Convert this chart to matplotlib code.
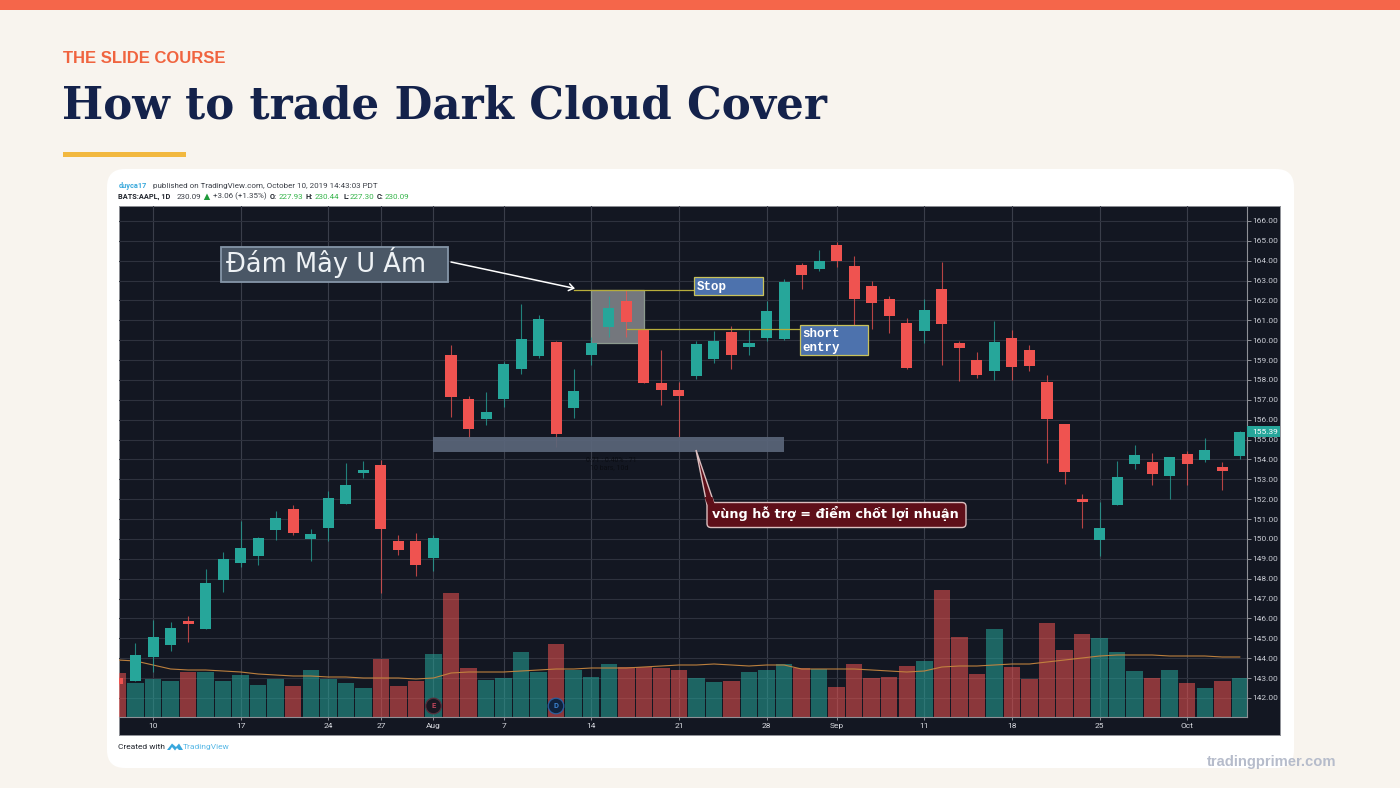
import numpy as np
import matplotlib
matplotlib.use("Agg")
import matplotlib.pyplot as plt
from matplotlib.patches import Rectangle, FancyBboxPatch, Polygon, Circle
from matplotlib.transforms import blended_transform_factory

# ---------- data ----------
opens  = [143.01,142.86,144.07,144.67,145.88,145.47,147.94,148.79,149.15,150.45,151.51,150.00,150.55,151.76,153.32,153.72,149.90,149.90,149.05,159.26,157.05,156.04,157.05,158.55,159.21,159.91,156.59,159.26,160.67,161.98,160.52,157.85,157.50,158.20,159.06,160.42,159.66,160.11,160.06,163.79,163.59,164.79,163.74,162.73,162.08,160.87,160.47,162.58,159.86,159.01,158.45,160.11,159.51,157.90,155.79,152.01,149.95,151.71,153.78,153.88,153.17,154.28,153.98,153.63,154.18]
highs  = [143.10,144.77,145.93,145.83,146.13,148.49,149.35,150.91,150.10,151.41,151.71,150.50,152.42,153.83,153.93,153.98,150.20,150.30,150.20,159.76,157.20,157.40,158.91,161.82,161.27,159.96,158.55,160.16,162.23,162.53,160.57,159.51,157.90,159.96,160.47,160.72,160.52,161.98,163.08,163.89,164.54,164.94,164.24,162.98,162.23,161.12,162.08,163.94,159.96,159.41,160.97,160.52,159.76,158.25,155.79,152.27,151.86,153.93,154.73,154.33,154.13,154.43,155.08,153.88,155.43]
lows   = [142.60,142.86,143.31,144.37,144.82,145.47,147.34,148.59,148.69,149.95,150.20,148.89,149.90,151.76,153.07,147.29,149.20,148.14,148.39,156.14,155.08,155.74,156.64,158.30,159.11,154.63,156.09,158.76,160.16,160.16,157.85,156.74,155.13,158.05,158.86,158.55,159.26,159.96,160.01,162.58,163.48,163.69,160.70,160.57,160.37,158.55,159.86,158.76,157.95,158.10,158.00,158.00,158.45,153.83,152.77,150.55,149.15,151.71,153.52,152.72,152.01,152.72,153.88,152.47,154.03]
closes = [142.70,144.17,145.07,145.52,145.73,147.79,149.00,149.55,150.05,151.06,150.30,150.25,152.06,152.72,153.47,150.50,149.45,148.69,150.05,157.15,155.54,156.39,158.81,160.06,161.07,155.28,157.45,159.86,161.62,160.92,157.85,157.50,157.20,159.81,159.96,159.26,159.86,161.47,162.93,163.28,163.99,163.99,162.08,161.87,161.22,158.60,161.52,160.82,159.61,158.25,159.91,158.65,158.70,156.04,153.37,151.86,150.55,153.12,154.23,153.27,154.13,153.78,154.48,153.42,155.39]
volumes = [17.6,13.6,15.2,14.4,18.0,18.0,14.4,16.8,12.8,15.2,12.4,18.8,15.2,13.6,11.6,23.2,12.4,14.4,25.2,49.6,19.6,14.8,15.6,26.0,18.0,29.2,18.8,16.0,21.2,20.0,20.0,19.6,18.8,15.6,14.0,14.4,18.0,18.8,21.2,19.6,19.2,12.0,21.2,15.6,16.0,20.4,22.4,50.8,32.0,17.2,35.2,20.0,15.2,37.6,26.8,33.2,31.6,26.0,18.4,15.6,18.8,13.6,11.6,14.4,15.6]
volume_ma = [22.8,22.4,20.8,19.2,18.8,18.8,18.4,18.0,17.2,16.8,16.4,16.4,16.0,16.0,15.6,15.6,15.6,15.2,15.6,17.6,18.0,18.0,18.0,18.4,18.8,19.2,19.2,19.6,19.6,19.6,20.0,20.4,20.8,20.8,21.2,20.8,20.4,20.8,20.8,19.2,19.2,19.2,19.2,18.8,18.4,18.0,18.4,20.0,20.4,20.4,20.8,21.2,21.2,22.0,22.8,23.6,24.4,24.8,24.8,24.8,24.4,24.4,24.4,24.0,24.0]
bars = np.arange(-1, len(opens) - 1)
date_ticks  = [1, 6, 11, 14, 17, 21, 26, 31, 36, 40, 45, 50, 55, 60]
date_labels = ["10", "17", "24", "27", "Aug", "7", "14", "21", "28", "Sep", "11", "18", "25", "Oct"]
price_ticks = list(range(142, 167))
last_price = 155.39
stop_level = 162.53
entry_level = 160.57
support_low, support_high = 154.38, 155.13
pattern_bars = (26.0, 29.0)
pattern_low = 159.86

# ---------- layout ----------
W, H = 1400, 788
BG = "#f8f4ee"; DARK = "#131722"; TEAL = "#26a69a"; RED = "#ef5350"
plt.rcParams["font.family"] = ["Roboto", "DejaVu Sans"]
fig = plt.figure(figsize=(14, 7.88), dpi=100, facecolor=BG)

def rect(x0, y0, x1, y1):
    return [x0 / W, 1 - y1 / H, (x1 - x0) / W, (y1 - y0) / H]

page = fig.add_axes([0, 0, 1, 1], zorder=0)
page.set_xlim(0, W); page.set_ylim(H, 0); page.axis("off")
page.add_patch(Rectangle((0, 0), W, 9.5, color="#f5664a", lw=0))
page.add_patch(Rectangle((63, 152), 123, 4.5, color="#f2b83f", lw=0))
page.add_patch(FancyBboxPatch((107, 169), 1187, 599, boxstyle="round,pad=0,rounding_size=18",
                              fc="white", ec="none", lw=0))
page.text(63, 58, "THE SLIDE COURSE", family="Liberation Sans", weight="bold", fontsize=12.0,
          color="#f0643f", va="center")
page.text(62, 106, "How to trade Dark Cloud Cover", family="DejaVu Serif", weight="bold", fontsize=31.4,
          color="#14224b", va="center")

# header
HF = 5.75
BF = 5.3
hdr = dict(fontsize=HF, va="center", color="#3c4048")
page.text(118.5, 185.5, "duyca17", **{**hdr, "color": "#3aa9dc", "fontsize": BF}, weight="bold")
page.text(152.7, 185.5, "published on TradingView.com, October 10, 2019 14:43:03 PDT", **hdr)
for x, s, c, w in [(118.5, "BATS:AAPL, 1D", "#20242c", "bold"), (177, "230.09", "#3c4048", "normal"),
                   (212.7, "+3.06 (+1.35%)", "#3c4048", "normal"), (269.7, "O:", "#20242c", "bold"),
                   (278.7, "227.93", "#35b44a", "normal"), (306, "H:", "#20242c", "bold"),
                   (315, "230.44", "#35b44a", "normal"), (343, "L:", "#20242c", "bold"),
                   (350, "227.30", "#35b44a", "normal"), (377, "C:", "#20242c", "bold"),
                   (384.7, "230.09", "#35b44a", "normal")]:
    page.text(x, 196.5, s, color=c, weight=w, fontsize=BF if w == "bold" else HF, va="center")
page.add_patch(Polygon([(203.8, 200), (210.2, 200), (207, 193.5)], color="#1f9a3a", lw=0))
page.text(118.5, 747, "Created with", fontsize=6.0, va="center", color="#20242c")
page.add_patch(Polygon([(167, 750), (172, 743.5), (176, 747), (179, 743.5), (183, 750), (179, 750), (177, 748),
                        (175, 750.5), (172, 747), (170, 750)], color="#38a7dd", lw=0))
page.text(183, 747, "TradingView", fontsize=6.0, va="center", color="#58b8e6")

# chart panel
panel = fig.add_axes(rect(118.5, 206, 1280, 734.5), zorder=1, facecolor=DARK)
panel.set_xticks([]); panel.set_yticks([])
for s in panel.spines.values():
    s.set_color("#8e9096"); s.set_linewidth(0.7)

plot_rect = rect(119, 206, 1247, 717)
xlim = (-0.941, 63.41)
ylim = (141.04, 166.75)

ax_grid = fig.add_axes(plot_rect, zorder=1.5, facecolor="none")
ax_grid.set_xlim(*xlim); ax_grid.set_ylim(*ylim)
ax_grid.set_xticks(date_ticks); ax_grid.set_yticks(price_ticks)
ax_grid.tick_params(length=0, labelbottom=False, labelleft=False)
ax_grid.grid(True, axis="y", color="#2e323e", lw=0.8)
ax_grid.grid(True, axis="x", color="#3a3e4a", lw=0.8)
for s in ax_grid.spines.values():
    s.set_visible(False)

ax_vol = fig.add_axes(plot_rect, zorder=2, facecolor="none")
ax_vol.set_xlim(*xlim); ax_vol.set_ylim(0, 204.4)
vol_colors = [TEAL if c >= o else RED for o, c in zip(opens, closes)]
ax_vol.bar(bars, volumes, width=0.94, color=vol_colors, alpha=0.55, lw=0)
ax_vol.plot(bars, volume_ma, color="#c5853f", lw=0.8, alpha=0.95)
ax_vol.axis("off")

ax = fig.add_axes(plot_rect, zorder=3, facecolor="none")
ax.set_xlim(*xlim); ax.set_ylim(*ylim)
ax.yaxis.tick_right()
ax.set_yticks(price_ticks, [f"{p:.2f}" for p in price_ticks])
ax.set_xticks(date_ticks, date_labels)
ax.tick_params(axis="y", length=3, width=0.7, color="#8e9096", labelsize=6.0, labelcolor="#c9ccd4", pad=1.0)
ax.tick_params(axis="x", length=2, width=0.7, color="#8e9096", labelsize=6.0, labelcolor="#d8dae0", pad=2.4)
for n, s in ax.spines.items():
    s.set_visible(n in ("right", "bottom"))
    s.set_color("#8e9096"); s.set_linewidth(0.8)

# pattern box (under the candles)
ax.add_patch(Rectangle((pattern_bars[0], pattern_low), pattern_bars[1] - pattern_bars[0], stop_level - pattern_low,
                       fc="#74777d", ec="#8c9a8e", lw=0.9, zorder=1.5))

ax.vlines(bars, lows, highs, colors=vol_colors, lw=0.8, alpha=0.75, zorder=2)
ax.bar(bars, np.abs(np.array(closes) - np.array(opens)), bottom=np.minimum(opens, closes), width=0.63,
       color=vol_colors, lw=0, zorder=3)

# levels
ax.plot([25, 31.85], [stop_level, stop_level], color="#b7ad3b", lw=0.9, zorder=4)
ax.plot([28.03, 37.9], [entry_level, entry_level], color="#b7ad3b", lw=0.9, zorder=4)
ax.add_patch(Rectangle((17, support_low), 20, support_high - support_low, fc="#5a667a", ec="none", alpha=0.92, zorder=4))

# last price tag
tr = blended_transform_factory(ax.transAxes, ax.transData)
ax.add_patch(Rectangle((1.0, last_price - 0.28), 33 / 1128, 0.56, transform=tr, fc=TEAL, ec="none", clip_on=False, zorder=6))
ax.text(1.0 + 5 / 1128, last_price, f"{last_price:.2f}", transform=tr, fontsize=6.0, color="white", va="center", zorder=7)

# overlay annotations
ov = fig.add_axes([0, 0, 1, 1], zorder=5, facecolor="none")
ov.set_xlim(0, W); ov.set_ylim(H, 0); ov.axis("off")
ov.add_patch(Rectangle((221, 246.5), 227, 35, fc="#4a5766", ec="#8596a8", lw=1.3))
ov.text(226.5, 263, "Đám Mây U Ám", family="DejaVu Sans", fontsize=18.5, color="#eef2f5", va="center")
ov.annotate("", xy=(575, 288.5), xytext=(451, 262),
            arrowprops=dict(arrowstyle="->,head_length=0.35,head_width=0.25", color="white", lw=1.1, shrinkA=0, shrinkB=0))
mono = dict(family="Liberation Mono", weight="bold", fontsize=9, color="white", va="center")
ov.add_patch(Rectangle((694, 277), 69, 17.5, fc="#4d72ad", ec="#c9c25b", lw=0.9))
ov.text(696.5, 286.5, "Stop", **mono)
ov.add_patch(Rectangle((800, 325), 68, 30, fc="#4d72ad", ec="#c9c25b", lw=0.9))
ov.text(802, 334, "short", **mono)
ov.text(802, 347.5, "entry", **mono)
ov.text(611, 460, "0.71 : 0.40% : 71", fontsize=5, color="#0b0d13", ha="center", va="center")
ov.text(609, 468, "10 bars, 10d", fontsize=5, color="#0b0d13", ha="center", va="center")
# callout
MAROON = "#5e0f19"; EDGE = "#dcbfc0"
ov.add_patch(Polygon([(696, 450), (707, 505), (714, 503)], fc=MAROON, ec=EDGE, lw=1.0))
ov.add_patch(FancyBboxPatch((707, 502.5), 259, 25, boxstyle="round,pad=0,rounding_size=4", fc=MAROON, ec=EDGE, lw=1.0))
ov.add_patch(Polygon([(704.5, 497), (708, 506), (715, 506), (712.5, 497)], fc=MAROON, ec="none", lw=0))
ov.text(712, 513.5, "vùng hỗ trợ = điểm chốt lợi nhuận", family="DejaVu Sans", weight="bold", fontsize=9.2, color="white", va="center")
# earnings / dividend markers
for x, fc, ec, tc, s in [(433.5, "#1a1822", "#55303c", "#c0455c", "E"), (556, "#10233d", "#2a5f9e", "#3b82d0", "D")]:
    ov.add_patch(Circle((x, 706), 7.8, fc=fc, ec=ec, lw=0.9))
    ov.text(x, 706, s, fontsize=5.5, color=tc, ha="center", va="center", weight="bold")
ov.text(1207, 762, "tradingprimer.com", family="Liberation Sans", weight="bold", fontsize=10.6, color="#b6bccb", va="center")

fig.savefig("out.png", dpi=100, facecolor=BG)
